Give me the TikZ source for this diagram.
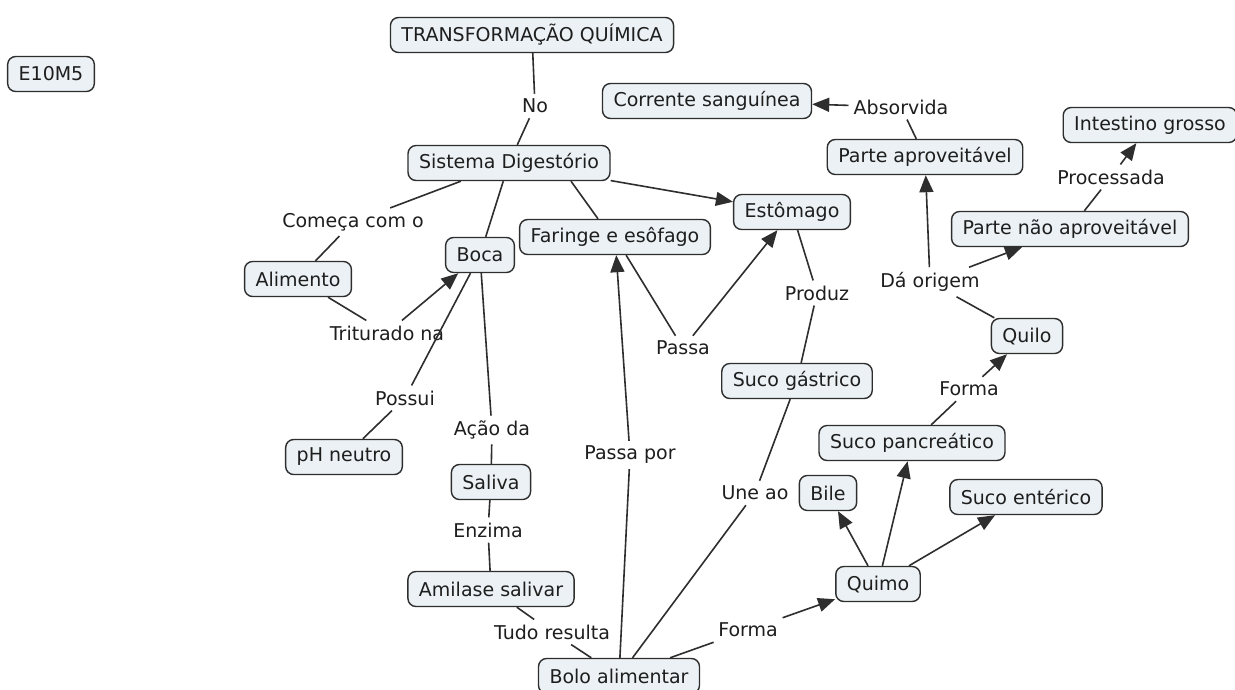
\documentclass[tikz,border=0pt]{standalone}
\usepackage{fontspec}
\setmainfont{DejaVu Sans}
\usetikzlibrary{arrows.meta}
\definecolor{nodefill}{HTML}{EBF1F4}
\definecolor{edgecol}{HTML}{2E2E2E}
\definecolor{txt}{HTML}{1E1E1E}
\begin{document}
\begin{tikzpicture}[x=1pt,y=-1pt,
  font=\fontsize{19}{22}\selectfont,
  concept/.style={draw=edgecol, fill=nodefill, rounded corners=8pt, line width=1.4pt,
    inner xsep=11pt, inner ysep=4pt, minimum height=35pt, text=txt},
  lbl/.style={text=txt, inner sep=5pt},
  conn/.style={draw=edgecol, line width=1.6pt},
  arr/.style={conn, -{Triangle[length=17pt,width=14pt]}}]
\useasboundingbox[fill=white] (0,0) rectangle (1235,689);

% concepts
\node[concept] (e10) at (51,74) {E10M5};
\node[concept] (tq) at (532,35) {TRANSFORMAÇÃO QUÍMICA};
\node[concept] (cs) at (707,101) {Corrente sanguínea};
\node[concept] (sd) at (509,163) {Sistema Digestório};
\node[concept] (pa) at (925,157) {Parte aproveitável};
\node[concept] (ig) at (1150,125) {Intestino grosso};
\node[concept] (est) at (792,212) {Estômago};
\node[concept] (far) at (615,237) {Faringe e esôfago};
\node[concept] (boca) at (480,255) {Boca};
\node[concept] (ali) at (298,279) {Alimento};
\node[concept] (pna) at (1070,229) {Parte não aproveitável};
\node[concept] (sg) at (797,381) {Suco gástrico};
\node[concept] (quilo) at (1027,336) {Quilo};
\node[concept] (sp) at (912,443) {Suco pancreático};
\node[concept] (bile) at (828,493) {Bile};
\node[concept] (se) at (1026,497) {Suco entérico};
\node[concept] (quimo) at (878,584) {Quimo};
\node[concept] (ph) at (344,457) {pH neutro};
\node[concept] (sal) at (491,482) {Saliva};
\node[concept] (ami) at (491,589) {Amilase salivar};
\node[concept] (bolo) at (619,676) {Bolo alimentar};

% linking phrases
\node[lbl] (no) at (535,106) {No};
\node[lbl] (abs) at (901,107) {Absorvida};
\node[lbl] (comeca) at (353,222) {Começa com o};
\node[lbl] (trit) at (387,333) {Triturado na};
\node[lbl] (passa) at (683,348) {Passa};
\node[lbl] (produz) at (817,293) {Produz};
\node[lbl] (proc) at (1111,177) {Processada};
\node[lbl] (dao) at (930,282) {Dá origem};
\node[lbl] (possui) at (405,398) {Possui};
\node[lbl] (acao) at (492,430) {Ação da};
\node[lbl] (enz) at (488,530) {Enzima};
\node[lbl] (forma2) at (969,389) {Forma};
\node[lbl] (une) at (755,493) {Une ao};
\node[lbl] (passapor) at (630,455) {Passa por};
\node[lbl] (tudo) at (552,632) {Tudo resulta};
\node[lbl] (forma1) at (748,630) {Forma};

% connectors
\draw[conn] (tq) -- (no);
\draw[conn] (no) -- (sd);
\draw[conn] (sd) -- (comeca);
\draw[conn] (comeca) -- (ali);
\draw[conn] (ali) -- (trit);
\draw[arr] (trit) -- (boca);
\draw[conn] (sd) -- (boca);
\draw[conn] ([xshift=62pt]sd.south) -- ([xshift=-17pt]far.north);
\draw[arr] (sd) -- (est);
\draw[conn] (boca) -- (possui);
\draw[conn] (possui) -- (ph);
\draw[conn] (boca) -- (acao);
\draw[conn] (acao) -- (sal);
\draw[conn] (sal) -- (enz);
\draw[conn] (enz) -- (ami);
\draw[conn] (ami) -- (tudo);
\draw[conn] (tudo) -- (bolo);
\draw[conn] (bolo) -- (passapor);
\draw[arr] (passapor) -- (far);
\draw[conn] (far) -- (passa);
\draw[arr] (passa) -- (est);
\draw[conn] (est) -- (produz);
\draw[conn] (produz) -- (sg);
\draw[conn] (sg) -- (une);
\draw[conn] (une) -- (bolo);
\draw[conn] (bolo) -- (forma1);
\draw[arr] (forma1) -- (quimo);
\draw[arr] (quimo) -- (bile);
\draw[arr] (quimo) -- (sp);
\draw[arr] (quimo) -- (se);
\draw[conn] (sp) -- (forma2);
\draw[arr] (forma2) -- (quilo);
\draw[conn] (quilo) -- (dao);
\draw[arr] (dao) -- (pa);
\draw[arr] (dao) -- (pna);
\draw[conn] (pa) -- (abs);
\draw[arr] (abs) -- (cs);
\draw[conn] (pna) -- (proc);
\draw[arr] (proc) -- (ig);
\end{tikzpicture}
\end{document}
